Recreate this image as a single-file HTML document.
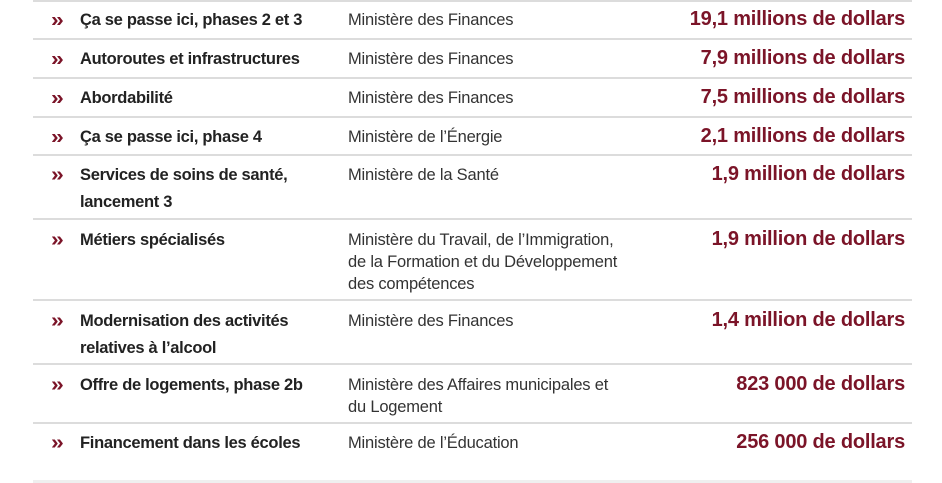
<!DOCTYPE html>
<html><head><meta charset="utf-8"><style>
body{margin:0;width:942px;height:483px;background:#fff;position:relative;overflow:hidden;font-family:"Liberation Sans",sans-serif;color:#222}
.l{position:absolute;left:33px;width:879px;height:2px;background:#dcdcdc}
.t{position:absolute;white-space:nowrap}
.c{left:51px;color:#7b1428;font-weight:bold;font-size:23px;line-height:23px;transform:scaleY(0.9)}
.n{left:80px;font-weight:bold;font-size:16.5px;line-height:27px;letter-spacing:-0.3px}
.m{left:348px;font-size:16.5px;line-height:22px;letter-spacing:-0.2px;color:#333}
.a{right:37px;font-weight:bold;font-size:20px;color:#7b1428;letter-spacing:-0.2px}
</style></head><body>
<div class="l" style="top:0"></div>
<div class="l" style="top:38px"></div>
<div class="l" style="top:77px"></div>
<div class="l" style="top:116px"></div>
<div class="l" style="top:154px"></div>
<div class="l" style="top:218px"></div>
<div class="l" style="top:299px"></div>
<div class="l" style="top:363px"></div>
<div class="l" style="top:422px"></div>
<div class="l" style="top:480px;background:#efefef;height:3px"></div>

<div class="t c" style="top:8px">»</div><div class="t n" style="top:7px">Ça se passe ici, phases 2 et 3</div><div class="t m" style="top:9px">Ministère des Finances</div><div class="t a" style="top:8px">19,1 millions de dollars</div>
<div class="t c" style="top:47px">»</div><div class="t n" style="top:46px">Autoroutes et infrastructures</div><div class="t m" style="top:48px">Ministère des Finances</div><div class="t a" style="top:47px">7,9 millions de dollars</div>
<div class="t c" style="top:86px">»</div><div class="t n" style="top:85px">Abordabilité</div><div class="t m" style="top:87px">Ministère des Finances</div><div class="t a" style="top:86px">7,5 millions de dollars</div>
<div class="t c" style="top:125px">»</div><div class="t n" style="top:124px">Ça se passe ici, phase 4</div><div class="t m" style="top:126px">Ministère de l’Énergie</div><div class="t a" style="top:125px">2,1 millions de dollars</div>
<div class="t c" style="top:163px">»</div><div class="t n" style="top:162px">Services de soins de santé,<br>lancement 3</div><div class="t m" style="top:164px">Ministère de la Santé</div><div class="t a" style="top:163px">1,9 million de dollars</div>
<div class="t c" style="top:228px">»</div><div class="t n" style="top:227px">Métiers spécialisés</div><div class="t m" style="top:229px">Ministère du Travail, de l’Immigration,<br>de la Formation et du Développement<br>des compétences</div><div class="t a" style="top:228px">1,9 million de dollars</div>
<div class="t c" style="top:309px">»</div><div class="t n" style="top:308px">Modernisation des activités<br>relatives à l’alcool</div><div class="t m" style="top:310px">Ministère des Finances</div><div class="t a" style="top:309px">1,4 million de dollars</div>
<div class="t c" style="top:373px">»</div><div class="t n" style="top:372px">Offre de logements, phase 2b</div><div class="t m" style="top:374px">Ministère des Affaires municipales et<br>du Logement</div><div class="t a" style="top:373px">823 000 de dollars</div>
<div class="t c" style="top:431px">»</div><div class="t n" style="top:430px">Financement dans les écoles</div><div class="t m" style="top:432px">Ministère de l’Éducation</div><div class="t a" style="top:431px">256 000 de dollars</div>
</body></html>
